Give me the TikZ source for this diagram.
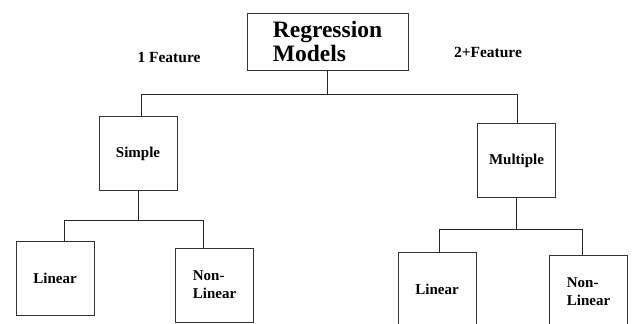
\documentclass[tikz,border=0pt]{standalone}
\usepackage{fontspec}
\setmainfont{Liberation Serif}
\usetikzlibrary{positioning}

\begin{document}
\begin{tikzpicture}[x=1pt, y=-1pt]
    \tikzstyle{box}=[draw=black!80, line width=0.9pt, minimum width=78pt, minimum height=74pt, align=left, inner sep=2pt, font=\bfseries\fontsize{15}{18}\selectfont]
    \tikzstyle{tag}=[font=\bfseries\fontsize{15.5}{17}\selectfont]
    \tikzstyle{link}=[draw=black!85, line width=0.9pt]
    \useasboundingbox (0,0) rectangle (633,324);
    \clip (0,0) rectangle (633,324);
    \node[box, minimum width=161pt, minimum height=57pt, font=\bfseries\fontsize{23.5}{24}\selectfont] (root) at (327.5,41.5) {Regression\\Models};
    \node[tag] (one) at (169,57) {1 Feature};
    \node[tag] (two) at (488,52) {2+Feature};
    \node[box] (simple) at (138,153.5) {Simple};
    \node[box] (multiple) at (516.5,160.5) {Multiple};
    \node[box] (linA) at (55,278) {Linear};
    \node[box] (nonA) at (214.5,285) {Non-\\Linear};
    \node[box] (linB) at (437,289) {Linear};
    \node[box] (nonB) at (588.5,292) {Non-\\Linear};
    \coordinate (topL) at (141,94);
    \coordinate (topR) at (517,94);
    \coordinate (midL) at (64,220);
    \coordinate (midR) at (203,220);
    \coordinate (lowL) at (439,229);
    \coordinate (lowR) at (582,229);
    \draw[link] (root.south) -- (root.south |- topL);
    \draw[link] (topL) -- (topR);
    \draw[link] (topL) -- (topL |- simple.north);
    \draw[link] (topR) -- (topR |- multiple.north);
    \draw[link] (simple.south) -- (simple.south |- midL);
    \draw[link] (midL) -- (midR);
    \draw[link] (midL) -- (midL |- linA.north);
    \draw[link] (midR) -- (midR |- nonA.north);
    \draw[link] (multiple.south) -- (multiple.south |- lowL);
    \draw[link] (lowL) -- (lowR);
    \draw[link] (lowL) -- (lowL |- linB.north);
    \draw[link] (lowR) -- (lowR |- nonB.north);
\end{tikzpicture}
\end{document}
